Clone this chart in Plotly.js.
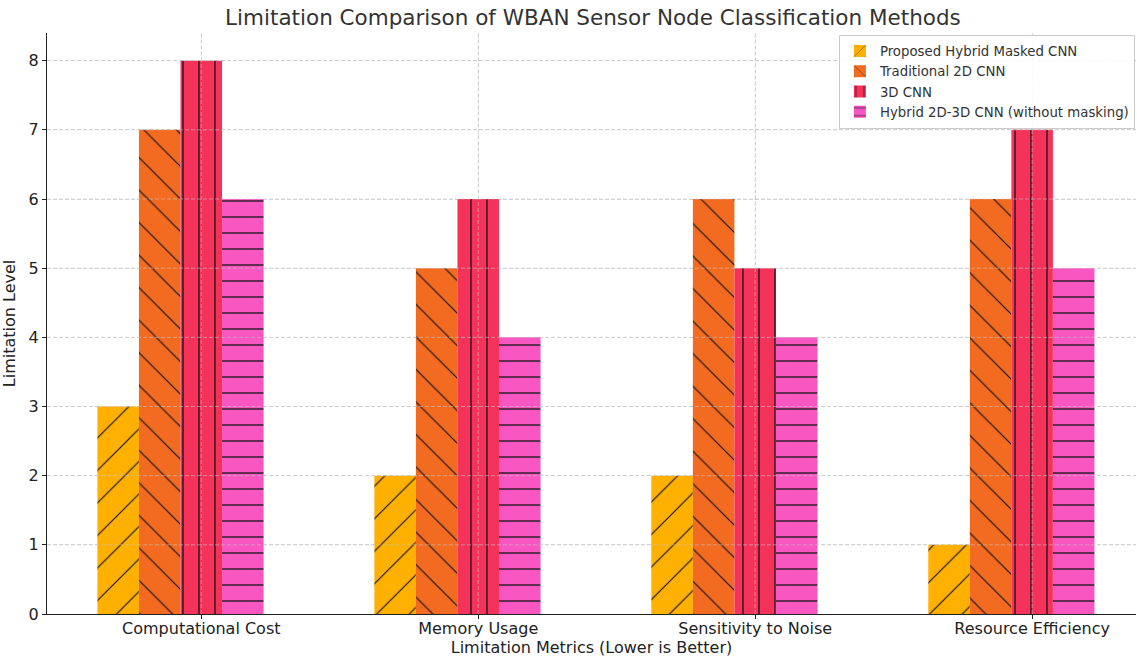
<!DOCTYPE html>
<html><head><meta charset="utf-8">
<script src="https://cdn.plot.ly/plotly-3.0.1.min.js"></script>
<style>html,body{margin:0;padding:0;background:#fff}</style>
</head><body>
<div id="chart" style="width:1137px;height:658px"></div>
<script>
const categories = ["Computational Cost", "Memory Usage", "Sensitivity to Noise", "Resource Efficiency"];
const seriesNames = ["Proposed Hybrid Masked CNN", "Traditional 2D CNN", "3D CNN", "Hybrid 2D-3D CNN (without masking)"];
const proposedHybrid = [3, 2, 2, 1];
const traditional2D = [7, 5, 6, 6];
const cnn3D = [8, 6, 5, 7];
const hybrid2D3D = [6, 4, 4, 5];
const yTicks = [0, 1, 2, 3, 4, 5, 6, 7, 8];

const seriesValues = [proposedHybrid, traditional2D, cnn3D, hybrid2D3D];
const colors = ["#FFB000", "#F26B21", "#F5325A", "#F857C1"];
const shapes = ["/", "\\", "|", "-"];
const sizes = [23, 23, 16, 16];
const solid = [0.05, 0.05, 0.08, 0.08];
const barW = 0.15;
const xIdx = categories.map((c, i) => i);

const traces = seriesValues.map((vals, i) => ({
  type: "bar",
  name: seriesNames[i],
  x: xIdx,
  y: vals,
  width: barW,
  offset: (i - 2) * barW - barW / 2,
  marker: {
    color: colors[i],
    line: {width: 0},
    pattern: {shape: shapes[i], size: sizes[i], solidity: solid[i], fgcolor: "#111", fgopacity: 1,
              bgcolor: colors[i], fillmode: "overlay"}
  },
  hoverinfo: "x+y+name"
}));

// matplotlib draws grid lines above the bars: overlay faint dashed lines at the tick positions
const gridStyle = {color: "rgba(200,200,200,0.7)", width: 0.8, dash: "4px,2px"};
const gridShapes = [
  ...yTicks.filter(v => v > 0).map(v => ({type: "line", layer: "above", xref: "paper", x0: 0, x1: 1, yref: "y", y0: v, y1: v, line: gridStyle})),
  ...xIdx.map(v => ({type: "line", layer: "above", xref: "x", x0: v, x1: v, yref: "paper", y0: 0, y1: 1, line: gridStyle}))
];

const layout = {
  width: 1137, height: 658,
  margin: {l: 47, r: 1, t: 33, b: 44},
  paper_bgcolor: "#fff", plot_bgcolor: "#fff",
  font: {family: "DejaVu Sans, sans-serif", color: "#333"},
  title: {text: "Limitation Comparison of WBAN Sensor Node Classification Methods",
          font: {size: 21.5, color: "#333"}, x: 0.5215, xanchor: "center", y: 0.974, yanchor: "middle"},
  barmode: "overlay",
  showlegend: true,
  shapes: gridShapes,
  legend: {x: 0.999, xanchor: "right", y: 0.997, yanchor: "top",
           bgcolor: "rgba(255,255,255,0.85)", bordercolor: "#ccc", borderwidth: 1,
           font: {size: 13.3, color: "#333"}, tracegroupgap: 0, itemwidth: 30},
  xaxis: {
    range: [-0.557, 3.375],
    tickmode: "array", tickvals: xIdx, ticktext: categories,
    tickfont: {size: 16, color: "#222"},
    ticklabelstandoff: -4,
    showgrid: true, gridcolor: "#d0d0d0", griddash: "4px,2px", gridwidth: 0.8,
    showline: true, linecolor: "#222", linewidth: 1.2,
    ticks: "outside", ticklen: 4, tickcolor: "#222",
    zeroline: false,
    title: {text: "Limitation Metrics (Lower is Better)", font: {size: 16, color: "#222"}, standoff: 4}
  },
  yaxis: {
    range: [0, 8.4],
    tickmode: "array", tickvals: yTicks,
    tickfont: {size: 16, color: "#222"},
    showgrid: true, gridcolor: "#d0d0d0", griddash: "4px,2px", gridwidth: 0.8,
    showline: true, linecolor: "#222", linewidth: 1.2,
    ticks: "outside", ticklen: 4, tickcolor: "#222",
    zeroline: false,
    title: {text: "Limitation Level", font: {size: 16, color: "#222"}, standoff: 8}
  }
};

Plotly.newPlot("chart", traces, layout, {displayModeBar: false, staticPlot: true});
</script>
</body></html>
